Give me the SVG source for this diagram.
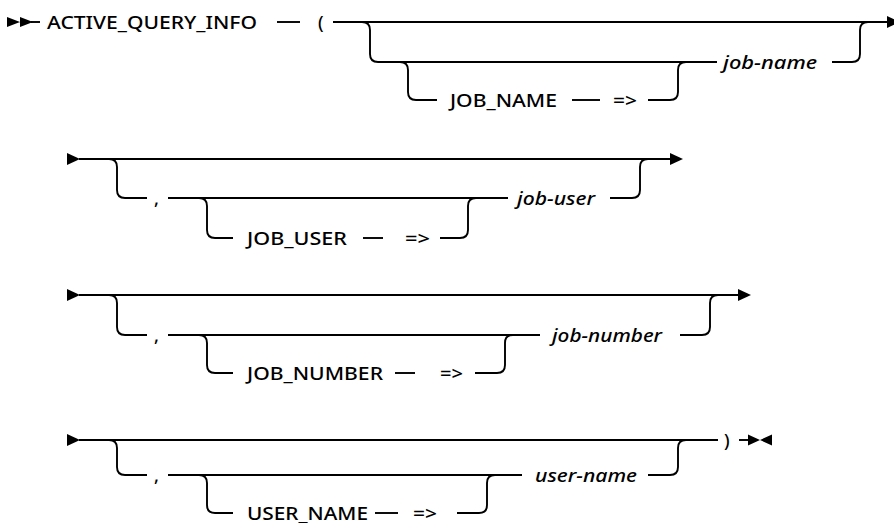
<svg xmlns="http://www.w3.org/2000/svg" width="894" height="523" viewBox="0 0 894 523">
<defs>
<style>
.ln{fill:none;stroke:#000;stroke-width:1.9;}
.ar{fill:#000;stroke:none;}
.kw{font-family:"Noto Sans","Liberation Sans",sans-serif;font-size:18px;font-weight:500;fill:#000;}
.var{font-family:"Noto Sans","Liberation Sans",sans-serif;font-size:18px;font-weight:500;font-style:italic;fill:#000;}
</style>
</defs>
<rect width="894" height="523" fill="#fff"/>
<g id="connectors">
<!-- row 1 -->
<path class="ar" d="M7,17 L20,22 L7,27 Z M20,17 L33,22 L20,27 Z"/>
<path class="ln" d="M31,22 H40"/>
<path class="ln" d="M277,22 H300"/>
<path class="ln" d="M333,22 H888"/>
<path class="ar" d="M887,16 L900,22 L887,28 Z"/>
<path class="ln" d="M362,22 Q370,22 370,30 V54 Q370,62 378,62 H717"/>
<path class="ln" d="M400,62 Q408,62 408,70 V92 Q408,100 416,100 H437"/>
<path class="ln" d="M572,100 H600"/>
<path class="ln" d="M648,100 H670 Q678,100 678,92 V70 Q678,62 686,62"/>
<path class="ln" d="M832,62 H852 Q860,62 860,54 V30 Q860,22 868,22"/>
<!-- row 2 -->
<path class="ar" d="M67,153 L80,159 L67,165 Z"/>
<path class="ln" d="M79,159 H671"/>
<path class="ar" d="M670,153 L683,159 L670,165 Z"/>
<path class="ln" d="M109,159 Q117,159 117,167 V190 Q117,198 125,198 H147"/>
<path class="ln" d="M168,198 H508"/>
<path class="ln" d="M199,198 Q207,198 207,206 V230 Q207,238 215,238 H233"/>
<path class="ln" d="M363,238 H383"/>
<path class="ln" d="M440,238 H460 Q468,238 468,230 V206 Q468,198 476,198"/>
<path class="ln" d="M610,198 H632 Q640,198 640,190 V167 Q640,159 648,159"/>
<!-- row 3 -->
<path class="ar" d="M67,289 L80,295 L67,301 Z"/>
<path class="ln" d="M79,295 H739"/>
<path class="ar" d="M738,289 L751,295 L738,301 Z"/>
<path class="ln" d="M109,295 Q117,295 117,303 V327 Q117,335 125,335 H147"/>
<path class="ln" d="M168,335 H540"/>
<path class="ln" d="M199,335 Q207,335 207,343 V365 Q207,373 215,373 H233"/>
<path class="ln" d="M395,373 H415"/>
<path class="ln" d="M475,373 H497 Q505,373 505,365 V343 Q505,335 513,335"/>
<path class="ln" d="M680,335 H702 Q710,335 710,327 V303 Q710,295 718,295"/>
<!-- row 4 -->
<path class="ar" d="M67,434 L80,440 L67,446 Z"/>
<path class="ln" d="M79,440 H718"/>
<path class="ln" d="M109,440 Q117,440 117,448 V467 Q117,475 125,475 H147"/>
<path class="ln" d="M168,475 H522"/>
<path class="ln" d="M199,475 Q207,475 207,483 V505 Q207,513 215,513 H233"/>
<path class="ln" d="M375,513 H398"/>
<path class="ln" d="M457,513 H479 Q487,513 487,505 V483 Q487,475 495,475"/>
<path class="ln" d="M648,475 H670 Q678,475 678,467 V448 Q678,440 686,440"/>
<path class="ln" d="M739,440 H749"/>
<path class="ar" d="M748,434.5 L760,440 L748,445.5 Z M772,434.5 L760,440 L772,445.5 Z"/>
</g>
<g id="n-active"><text class="kw" x="47" y="28.5" textLength="210" lengthAdjust="spacingAndGlyphs">ACTIVE_QUERY_INFO</text></g>
<g id="n-lparen"><text class="kw" x="318" y="28.5">(</text></g>
<g id="n-jobname-kw"><text class="kw" x="450" y="106.5" textLength="107" lengthAdjust="spacingAndGlyphs">JOB_NAME</text></g>
<g id="n-arrow1"><text class="kw" x="613" y="106.5" textLength="24" lengthAdjust="spacingAndGlyphs">=&gt;</text></g>
<g id="n-jobname"><text class="var" x="723" y="68.5" textLength="94" lengthAdjust="spacingAndGlyphs">job-name</text></g>
<g id="n-comma2"><text class="kw" x="154" y="204.5">,</text></g>
<g id="n-jobuser-kw"><text class="kw" x="247" y="244.5" textLength="100" lengthAdjust="spacingAndGlyphs">JOB_USER</text></g>
<g id="n-arrow2"><text class="kw" x="405" y="244.5" textLength="25" lengthAdjust="spacingAndGlyphs">=&gt;</text></g>
<g id="n-jobuser"><text class="var" x="517" y="204.5" textLength="78" lengthAdjust="spacingAndGlyphs">job-user</text></g>
<g id="n-comma3"><text class="kw" x="154" y="341.5">,</text></g>
<g id="n-jobnumber-kw"><text class="kw" x="247" y="379.5" textLength="136" lengthAdjust="spacingAndGlyphs">JOB_NUMBER</text></g>
<g id="n-arrow3"><text class="kw" x="440" y="379.5" textLength="23" lengthAdjust="spacingAndGlyphs">=&gt;</text></g>
<g id="n-jobnumber"><text class="var" x="552" y="341.5" textLength="110" lengthAdjust="spacingAndGlyphs">job-number</text></g>
<g id="n-comma4"><text class="kw" x="154" y="481.5">,</text></g>
<g id="n-username-kw"><text class="kw" x="247" y="519.5" textLength="121" lengthAdjust="spacingAndGlyphs">USER_NAME</text></g>
<g id="n-arrow4"><text class="kw" x="413" y="519.5" textLength="24" lengthAdjust="spacingAndGlyphs">=&gt;</text></g>
<g id="n-username"><text class="var" x="535" y="481.5" textLength="102" lengthAdjust="spacingAndGlyphs">user-name</text></g>
<g id="n-rparen"><text class="kw" x="724" y="446.5">)</text></g>
</svg>
